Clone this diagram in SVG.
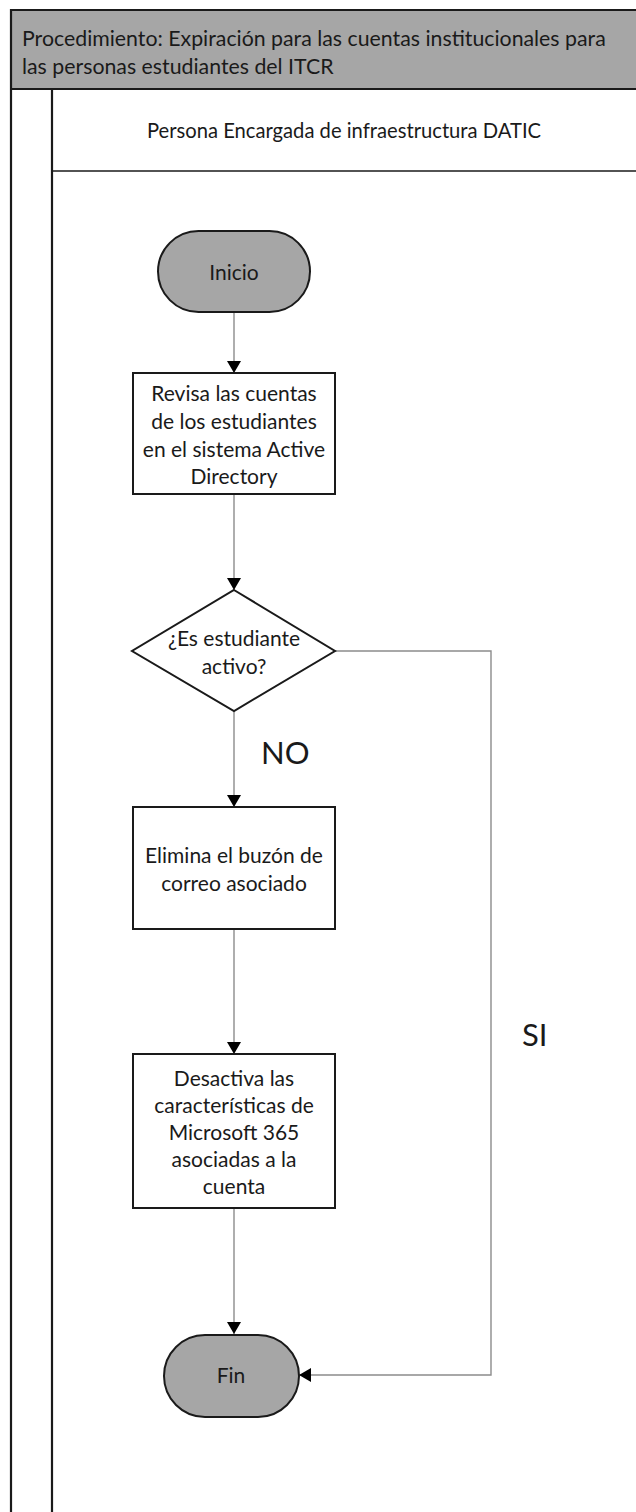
<svg xmlns="http://www.w3.org/2000/svg" width="636" height="1512" viewBox="0 0 636 1512">
<style>
text{font-family:Lato,"Liberation Sans",sans-serif;fill:#1a1a1a}
.t{font-size:21.3px}
.h{font-size:20.2px;text-anchor:middle}
.b{font-size:21px;text-anchor:middle}
.lbl{font-size:31px}
.frame{fill:none;stroke:#1a1a1a;stroke-width:2.2}
.term{fill:#a6a6a6;stroke:#1a1a1a;stroke-width:2}
.box{fill:#fff;stroke:#1a1a1a;stroke-width:2}
.con{fill:none;stroke:#8c8c8c;stroke-width:1.4}
</style>
<defs>
<marker id="ah" viewBox="0 0 12 14" refX="12" refY="7" markerWidth="12" markerHeight="14" markerUnits="userSpaceOnUse" orient="auto">
<path d="M0,0 L12,7 L0,14 Z" fill="#000"/>
</marker>
</defs>
<rect width="636" height="1512" fill="#fff"/>
<g id="pool">
<rect x="11" y="10" width="640" height="79" fill="#a6a6a6"/>
<path class="frame" d="M11,1512 V10 H640 M11,89 H640 M52,89 V1512"/>
<path d="M52,171 H640" stroke="#1a1a1a" stroke-width="1.6" fill="none"/>
<text class="t" x="22" y="46">Procedimiento: Expiración para las cuentas institucionales para</text>
<text class="t" x="22" y="74">las personas estudiantes del ITCR</text>
<text class="h" x="344" y="138">Persona Encargada de infraestructura DATIC</text>
</g>
<g id="connectors">
<path class="con" d="M234,312 V373" marker-end="url(#ah)"/>
<path class="con" d="M234,494 V590" marker-end="url(#ah)"/>
<path class="con" d="M234,711 V807" marker-end="url(#ah)"/>
<path class="con" d="M234,929 V1054" marker-end="url(#ah)"/>
<path class="con" d="M234,1208 V1334" marker-end="url(#ah)"/>
<path class="con" d="M335,651 H491 V1375 H299" marker-end="url(#ah)"/>
<text class="lbl" x="261" y="764">NO</text>
<text class="lbl" x="522" y="1046">SI</text>
</g>
<g id="inicio">
<rect class="term" x="158" y="231" width="152" height="81" rx="40.5"/>
<text class="b" x="234" y="280">Inicio</text>
</g>
<g id="revisa">
<rect class="box" x="133" y="373" width="202" height="121"/>
<text class="b" x="234" y="401">Revisa las cuentas</text>
<text class="b" x="234" y="429">de los estudiantes</text>
<text class="b" x="234" y="457">en el sistema Active</text>
<text class="b" x="234" y="484">Directory</text>
</g>
<g id="decision">
<polygon class="box" points="234,590 335,651 234,711 132,651"/>
<text class="b" x="234" y="646">¿Es estudiante</text>
<text class="b" x="234" y="674">activo?</text>
</g>
<g id="elimina">
<rect class="box" x="133" y="807" width="202" height="122"/>
<text class="b" x="234" y="863">Elimina el buzón de</text>
<text class="b" x="234" y="891">correo asociado</text>
</g>
<g id="desactiva">
<rect class="box" x="133" y="1054" width="202" height="154"/>
<text class="b" x="234" y="1086">Desactiva las</text>
<text class="b" x="234" y="1113">características de</text>
<text class="b" x="234" y="1140">Microsoft 365</text>
<text class="b" x="234" y="1167">asociadas a la</text>
<text class="b" x="234" y="1194">cuenta</text>
</g>
<g id="fin">
<rect class="term" x="164" y="1335" width="135" height="82" rx="41"/>
<text class="b" x="231" y="1383">Fin</text>
</g>
</svg>
